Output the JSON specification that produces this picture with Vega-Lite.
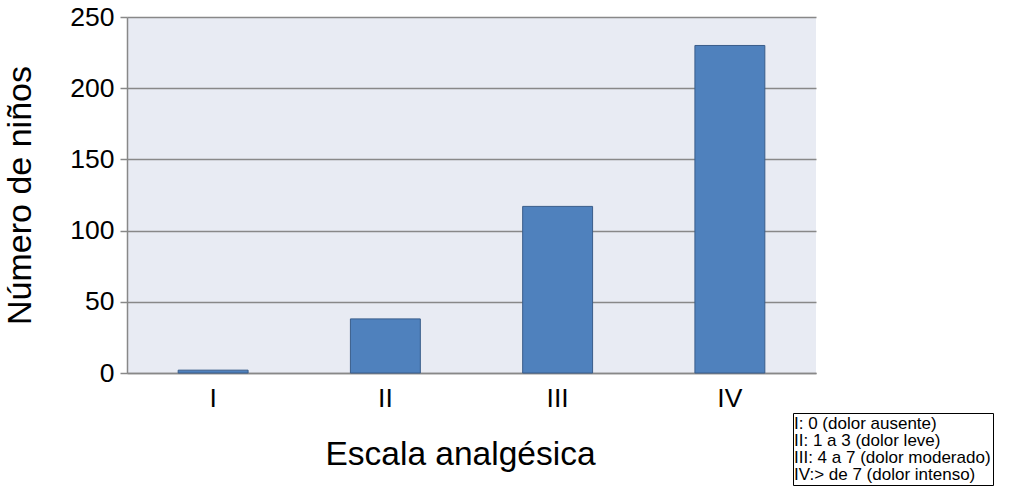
{
  "$schema": "https://vega.github.io/schema/vega-lite/v6.json",
  "autosize": "none",
  "padding": {"left": 127, "top": 17, "right": 208, "bottom": 118},
  "width": 689,
  "height": 356,
  "background": "white",
  "config": {
    "view": {"fill": "#E8EBF3", "stroke": null},
    "font": "Liberation Sans"
  },
  "data": {
    "values": [
      {"escala": "I", "ninos": 2, "desc": "I: 0 (dolor ausente)"},
      {"escala": "II", "ninos": 38, "desc": "II: 1 a 3 (dolor leve)"},
      {"escala": "III", "ninos": 117, "desc": "III: 4 a 7 (dolor moderado)"},
      {"escala": "IV", "ninos": 230, "desc": "IV:> de 7 (dolor intenso)"}
    ]
  },
  "mark": {"type": "bar", "stroke": "#3A5D8A", "strokeWidth": 1},
  "encoding": {
    "x": {
      "field": "escala",
      "type": "nominal",
      "sort": null,
      "title": "Escala analgésica",
      "scale": {"paddingInner": 0.594, "paddingOuter": 0.297},
      "axis": {
        "labelAngle": 0,
        "labelFontSize": 26.5,
        "labelColor": "black",
        "labelPadding": 12,
        "ticks": false,
        "domain": true,
        "domainColor": "#888888",
        "domainWidth": 1.5,
        "grid": false,
        "titleFontSize": 33.5,
        "titleFontWeight": "normal",
        "titleColor": "black",
        "titlePadding": 27,
        "titleX": 333
      }
    },
    "y": {
      "field": "ninos",
      "type": "quantitative",
      "title": "Número de niños",
      "scale": {"domain": [0, 250], "nice": false},
      "axis": {
        "values": [0, 50, 100, 150, 200, 250],
        "labelFontSize": 26.5,
        "labelColor": "black",
        "labelPadding": 6,
        "tickSize": 7,
        "tickColor": "#888888",
        "tickWidth": 1.5,
        "domain": true,
        "domainColor": "#888888",
        "domainWidth": 1.5,
        "grid": true,
        "gridColor": "#888888",
        "gridWidth": 1.5,
        "titleFontSize": 34,
        "titleFontWeight": "normal",
        "titleColor": "black",
        "titlePadding": 32
      }
    },
    "color": {
      "field": "desc",
      "type": "nominal",
      "sort": null,
      "scale": {"range": ["#4F81BD", "#4F81BD", "#4F81BD", "#4F81BD"]},
      "legend": {
        "title": null,
        "orient": "none",
        "legendX": 666,
        "legendY": 396,
        "symbolSize": 0.01,
        "symbolStrokeWidth": 0.01,
        "symbolOpacity": 0,
        "labelOffset": -18,
        "labelFontSize": 17,
        "labelColor": "black",
        "labelLimit": 400,
        "rowPadding": -4,
        "padding": 2,
        "strokeColor": "black",
        "encode": {"legend": {"update": {"strokeWidth": {"value": 2}}}}
      }
    }
  }
}
